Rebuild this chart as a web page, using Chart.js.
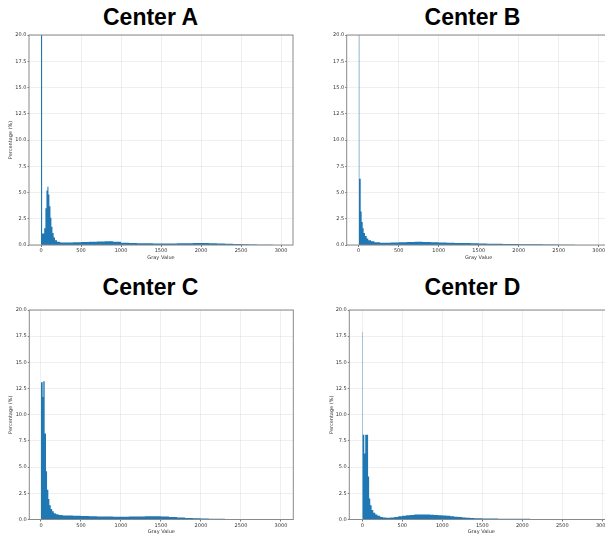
<!DOCTYPE html>
<html><head><meta charset="utf-8">
<script src="https://cdn.jsdelivr.net/npm/chart.js@4.4.1/dist/chart.umd.min.js"></script>
<style>
html,body{margin:0;padding:0;background:#fff;width:605px;height:534px;overflow:hidden;position:relative;}
.t{position:absolute;width:300px;text-align:center;font-family:"Liberation Sans",Arial,sans-serif;font-weight:bold;font-size:23px;line-height:23px;color:#000;white-space:nowrap;}
canvas{position:absolute;}
</style></head><body>
<div class="t" id="tA" style="left:0.5px;top:5.5px"></div>
<div class="t" id="tB" style="left:322.5px;top:5.5px"></div>
<div class="t" id="tC" style="left:0.5px;top:275.5px"></div>
<div class="t" id="tD" style="left:322.5px;top:275.5px"></div>
<script>
const panelTitles = ['Center A', 'Center B', 'Center C', 'Center D'];
const xAxisTitle = 'Gray Value';
const yAxisTitle = 'Percentage (%)';
const xTickValues = [0, 500, 1000, 1500, 2000, 2500, 3000];
const yTickValues = [0, 2.5, 5, 7.5, 10, 12.5, 15, 17.5, 20];

// Histogram bin edges (gray value) and bar heights (%)
const centerAEdges = [0, 14, 40, 55, 68, 80, 93, 105, 118, 130, 143, 158, 175, 200, 240, 300, 400, 500, 600, 700, 800, 900, 1000, 1100, 1200, 1300, 1400, 1500, 1600, 1700, 1800, 1900, 2000, 2100, 2200, 2300, 2400, 2500, 2600, 2700, 2800, 2900, 3000];
const centerAValues = [25, 1.1, 1.6, 3.5, 5.2, 5.55, 4.8, 3.7, 2.6, 1.75, 1.15, 0.72, 0.46, 0.32, 0.25, 0.24, 0.26, 0.28, 0.3, 0.34, 0.36, 0.3, 0.22, 0.18, 0.17, 0.16, 0.15, 0.15, 0.15, 0.16, 0.17, 0.18, 0.18, 0.17, 0.15, 0.12, 0.09, 0.06, 0.04, 0.03, 0.02, 0.01];

const centerBEdges = [0, 8, 25, 37, 50, 62, 79, 100, 120, 154, 196, 266, 400, 500, 600, 700, 800, 900, 1000, 1100, 1200, 1300, 1400, 1500, 1600, 1700, 1800, 1900, 2000, 2100, 2200, 2300, 2400, 2500, 2600, 2700, 2800, 3000];
const centerBValues = [25, 6.3, 3.2, 2.2, 1.6, 1.15, 0.85, 0.62, 0.46, 0.35, 0.27, 0.22, 0.24, 0.26, 0.28, 0.3, 0.29, 0.27, 0.25, 0.22, 0.2, 0.18, 0.16, 0.14, 0.12, 0.11, 0.1, 0.09, 0.08, 0.07, 0.06, 0.05, 0.04, 0.03, 0.02, 0.01, 0.005];

const centerCEdges = [0, 21, 29, 46, 63, 76, 92, 105, 122, 140, 160, 185, 220, 270, 400, 500, 600, 700, 800, 900, 1000, 1100, 1200, 1300, 1400, 1500, 1600, 1700, 1800, 1900, 2000, 2100, 2200, 2300, 2400, 2500, 2600, 2700, 2800, 3000];
const centerCValues = [13.1, 11.7, 13.2, 8.2, 4.6, 2.85, 1.95, 1.35, 1.0, 0.78, 0.6, 0.5, 0.43, 0.38, 0.36, 0.34, 0.31, 0.29, 0.28, 0.27, 0.27, 0.28, 0.29, 0.3, 0.3, 0.28, 0.23, 0.18, 0.14, 0.12, 0.1, 0.08, 0.06, 0.05, 0.04, 0.03, 0.02, 0.01, 0.005];

const centerDEdges = [0, 6, 25, 37, 73, 86, 100, 117, 138, 163, 190, 225, 260, 300, 350, 400, 450, 500, 550, 600, 650, 700, 750, 800, 850, 900, 950, 1000, 1050, 1100, 1150, 1200, 1250, 1300, 1350, 1400, 1500, 1600, 1700, 1800, 1900, 2000, 2100, 2200, 2300, 2400, 2500, 2600, 2700, 3000];
const centerDValues = [17.9, 8.1, 6.3, 8.1, 4.1, 2.0, 1.35, 0.9, 0.65, 0.47, 0.35, 0.25, 0.19, 0.17, 0.2, 0.25, 0.3, 0.35, 0.4, 0.44, 0.47, 0.48, 0.48, 0.47, 0.45, 0.43, 0.41, 0.38, 0.35, 0.31, 0.27, 0.23, 0.2, 0.17, 0.14, 0.12, 0.1, 0.09, 0.08, 0.07, 0.07, 0.06, 0.05, 0.05, 0.04, 0.03, 0.02, 0.01, 0.005];

['tA','tB','tC','tD'].forEach((id, i) => { document.getElementById(id).textContent = panelTitles[i]; });

const framePlugin = {
  id: 'frame',
  afterDraw(chart) {
    const {ctx, chartArea: a} = chart;
    ctx.save();
    ctx.strokeStyle = '#8a8a8a';
    ctx.lineWidth = 1;
    ctx.strokeRect(a.left, a.top, a.right - a.left, a.bottom - a.top);
    ctx.restore();
  }
};

function stepPoints(edges, values) {
  const pts = values.map((v, i) => ({x: edges[i], y: v}));
  pts.push({x: edges[edges.length - 1], y: 0});
  return pts;
}

const tickFont = {family: 'DejaVu Sans', size: 5};

function makePanel(p) {
  const c = document.createElement('canvas');
  c.width = p.w; c.height = p.h;
  c.style.left = p.left + 'px'; c.style.top = p.top + 'px';
  c.style.width = p.w + 'px'; c.style.height = p.h + 'px';
  document.body.appendChild(c);
  new Chart(c, {
    type: 'line',
    data: {
      datasets: [{
        data: stepPoints(p.edges, p.values),
        stepped: true,
        fill: 'origin',
        backgroundColor: '#1f77b4',
        borderColor: 'rgba(0,0,0,0)',
        borderWidth: 0,
        pointRadius: 0,
        pointHoverRadius: 0
      }]
    },
    options: {
      responsive: false,
      animation: false,
      devicePixelRatio: 1,
      events: [],
      layout: {padding: {left: 0, top: 5, right: p.padRight, bottom: p.padBottom}},
      plugins: {legend: {display: false}, tooltip: {enabled: false}, title: {display: false}},
      scales: {
        x: {
          type: 'linear', min: p.xMin, max: p.xMax,
          afterBuildTicks: s => { s.ticks = xTickValues.map(v => ({value: v})); },
          afterFit: s => { s.height = 15.6; },
          border: {display: false},
          grid: {color: 'rgba(176,176,176,0.25)', lineWidth: 0.8, tickLength: 2, tickColor: '#555', tickWidth: 0.8},
          ticks: {font: tickFont, color: '#333', padding: 1, maxRotation: 0, autoSkip: false, callback: v => String(v)},
          title: {display: true, text: xAxisTitle, font: tickFont, color: '#333', padding: 0}
        },
        y: {
          type: 'linear', min: 0, max: 20,
          afterBuildTicks: s => { s.ticks = yTickValues.map(v => ({value: v})); },
          afterFit: s => { s.width = p.yWidth; },
          border: {display: false},
          grid: {color: 'rgba(176,176,176,0.25)', lineWidth: 0.8, tickLength: 1.5, tickColor: '#555', tickWidth: 0.8},
          ticks: {font: tickFont, color: '#333', padding: 1, callback: v => Number(v).toFixed(1)},
          title: {display: p.yTitle, text: yAxisTitle, font: tickFont, color: '#333', padding: {top: p.yTitlePad, bottom: 0}}
        }
      }
    },
    plugins: [framePlugin]
  });
}

makePanel({left: 0, top: 30, w: 300, h: 240, padRight: 7, padBottom: 9.4, yWidth: 29, xMin: -150, xMax: 3150, yTitle: true, yTitlePad: 7.7, edges: centerAEdges, values: centerAValues});
makePanel({left: 302, top: 30, w: 312, h: 240, padRight: 3.3, padBottom: 9.4, yWidth: 44.7, xMin: -150, xMax: 3150, yTitle: false, yTitlePad: 0, edges: centerBEdges, values: centerBValues});
makePanel({left: 0, top: 305, w: 300, h: 240, padRight: 6.7, padBottom: 9.9, yWidth: 29.3, xMin: -146, xMax: 3154, yTitle: true, yTitlePad: 7.7, edges: centerCEdges, values: centerCValues});
makePanel({left: 302, top: 305, w: 314, h: 240, padRight: 2.7, padBottom: 9.9, yWidth: 47.3, xMin: -162, xMax: 3138, yTitle: true, yTitlePad: 26.7, edges: centerDEdges, values: centerDValues});
</script>
</body></html>
